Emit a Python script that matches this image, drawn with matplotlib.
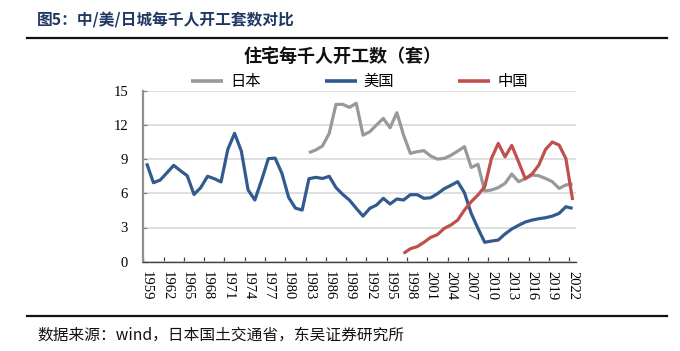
import numpy as np
import matplotlib
matplotlib.use("Agg")
import matplotlib.pyplot as plt
from matplotlib.ticker import FixedLocator, NullFormatter, FixedFormatter

plt.rcParams['font.family'] = ['Noto Sans CJK SC', 'DejaVu Sans']

years = list(range(1959, 2023))
nan = np.nan

us = [8.63, 6.93, 7.16, 7.8, 8.45, 7.98, 7.54, 5.9, 6.5, 7.49, 7.28, 7.0,
      9.85, 11.26, 9.7, 6.29, 5.41, 7.16, 9.04, 9.09, 7.75, 5.64, 4.7, 4.53,
      7.28, 7.4, 7.3, 7.49, 6.5, 5.9, 5.4, 4.68, 4.0, 4.68, 4.97, 5.56,
      5.06, 5.5, 5.41, 5.88, 5.88, 5.56, 5.61, 5.96, 6.4, 6.7, 7.02, 6.05,
      4.24, 2.92, 1.7, 1.81, 1.9, 2.43, 2.87, 3.19, 3.48, 3.65, 3.77, 3.86,
      4.0, 4.24, 4.82, 4.68]

japan = [nan] * 24 + [9.56, 9.8, 10.15, 11.26, 13.8, 13.8, 13.54, 13.9, 11.1,
         11.4, 12.0, 12.57, 11.75, 13.07, 11.1, 9.5, 9.65, 9.74, 9.27, 9.0,
         9.06, 9.33, 9.7, 10.09, 8.27, 8.54, 6.2, 6.29, 6.5, 6.87, 7.69,
         7.02, 7.28, 7.6, 7.54, 7.3, 7.02, 6.43, 6.73, 6.81]

china = [nan] * 38 + [0.73, 1.14, 1.32, 1.7, 2.13, 2.37, 2.92, 3.22, 3.65,
         4.53, 5.26, 5.85, 6.58, 9.06, 10.38, 9.2, 10.2, 8.77, 7.28, 7.69,
         8.48, 9.85, 10.5, 10.23, 9.06, 5.41]

yticks = [0, 3, 6, 9, 12, 15]
xlabels = [str(y) for y in range(1959, 2023, 3)]

C_GRAY = '#999999'
C_BLUE = '#325A8E'
C_RED = '#C0504D'

fig = plt.figure(figsize=(6.8, 3.51), dpi=100)
ax = fig.add_axes([143.3 / 680, 1 - 261.7 / 351, (576 - 143.3) / 680, (261.7 - 90.7) / 351])

ax.plot(years, japan, color=C_GRAY, lw=2.3, label='日本', solid_capstyle='butt')
ax.plot(years, us, color=C_BLUE, lw=2.3, label='美国', solid_capstyle='butt')
ax.plot(years, china, color=C_RED, lw=2.3, label='中国', solid_capstyle='butt')

ax.set_xlim(1958.5, 2022.5)
ax.set_ylim(0, 15)
ax.set_yticks(yticks)
ax.set_yticklabels([str(v) for v in yticks], fontfamily='Liberation Serif', fontsize=10.5)
ax.yaxis.grid(True, color='#D9D9D9', lw=1.2)
ax.set_axisbelow(True)

# x: ticks at category boundaries, labels at category centres
ax.xaxis.set_major_locator(FixedLocator([1958.5 + 3 * k for k in range(22)]))
ax.xaxis.set_major_formatter(NullFormatter())
ax.xaxis.set_minor_locator(FixedLocator([int(s) for s in xlabels]))
ax.xaxis.set_minor_formatter(FixedFormatter(xlabels))
ax.tick_params(axis='x', which='major', direction='in', length=3.4, width=0.9, color='#404040')
ax.tick_params(axis='x', which='minor', length=0, pad=7, labelsize=10.5, labelrotation=-90)
for t in ax.get_xticklabels(minor=True):
    t.set_fontfamily('Liberation Serif')
    t.set_va('top')
ax.tick_params(axis='y', direction='in', length=3, width=0.9, color='#808080', pad=11)

for s in ['top', 'right']:
    ax.spines[s].set_visible(False)
ax.spines['left'].set_color('#909090')
ax.spines['left'].set_linewidth(1.6)
ax.spines['bottom'].set_color('#404040')
ax.spines['bottom'].set_linewidth(1.0)

leg = ax.legend(ncol=3, loc='center', bbox_to_anchor=(359.5 / 680, 1 - 81.7 / 351),
                bbox_transform=fig.transFigure, frameon=False, fontsize=11,
                handlelength=2.1, handletextpad=0.45, columnspacing=4.2, borderpad=0)
for line in leg.get_lines():
    line.set_linewidth(2.6)

fig.text(343 / 680, 1 - 56.7 / 351, '住宅每千人开工数（套）', ha='center', va='center',
         fontsize=13, fontweight='bold', color='#111111')

fig.text(37 / 680, 1 - 20 / 351, '图5：中/美/日城每千人开工套数对比', ha='left', va='center',
         fontsize=11.3, fontweight='bold', color='#1F3864')
fig.add_artist(plt.Line2D([27 / 680, 667 / 680], [1 - 37.7 / 351] * 2, color='#111111', lw=1.6))
fig.add_artist(plt.Line2D([27 / 680, 667 / 680], [1 - 316.3 / 351] * 2, color='#111111', lw=1.6))
fig.text(37 / 680, 1 - 335 / 351, '数据来源：wind，日本国土交通省，东吴证券研究所', ha='left', va='center',
         fontsize=11.3, color='#111111')

fig.savefig('out.png', dpi=100)
